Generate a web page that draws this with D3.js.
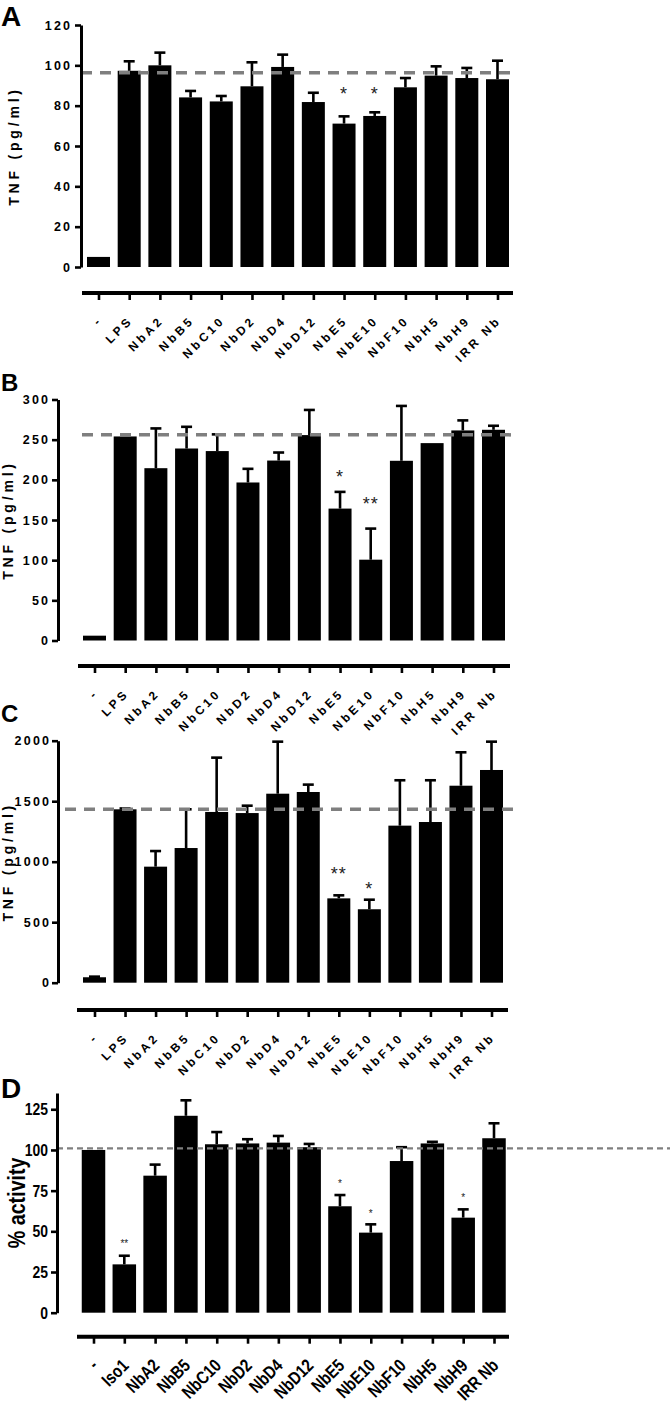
<!DOCTYPE html>
<html><head><meta charset="utf-8">
<script src="https://cdn.jsdelivr.net/npm/d3@7"></script>
<style>body{margin:0;background:#fff}svg{display:block}</style>
</head><body>
<script>
// ---------- DATA ----------
const catsTNF = ["-","LPS","NbA2","NbB5","NbC10","NbD2","NbD4","NbD12","NbE5","NbE10","NbF10","NbH5","NbH9","IRR Nb"];
const catsD   = ["-","Iso1","NbA2","NbB5","NbC10","NbD2","NbD4","NbD12","NbE5","NbE10","NbF10","NbH5","NbH9","IRR Nb"];

const meanA = [5, 97.3, 100, 84.1, 82.1, 89.6, 99.2, 81.8, 71.1, 74.9, 89.1, 94.9, 93.7, 93.1];
const semA  = [0, 4.7, 6.3, 3.2, 2.7, 11.9, 6.1, 4.6, 3.6, 1.8, 4.6, 4.6, 5.0, 9.2];
const sigA  = ["","","","","","","","","*","*","","","",""];
const sigPosA = [null,null,null,null,null,null,null,null,86.4,86.4,null,null,null,null];
const refA = 96.3;
const ticksA = [0,20,40,60,80,100,120];

const meanB = [6, 254, 214.5, 239, 235.8, 196.7, 224, 255.7, 164.2, 100.6, 223.7, 245.7, 261.5, 262.3];
const semB  = [0, 0, 49.5, 27, 20.8, 17, 10, 31.3, 20.8, 38.7, 68.3, 0, 12.5, 5];
const sigB  = ["","","","","","","","","*","**","","","",""];
const sigPosB = [null,null,null,null,null,null,null,null,204.6,171,null,null,null,null];
const refB = 256;
const ticksB = [0,50,100,150,200,250,300];

const meanC = [45, 1433, 959, 1113, 1411, 1402, 1562, 1576, 697, 607, 1298, 1328, 1628, 1758];
const semC  = [5, 7, 129, 320, 449, 61, 430, 61, 25, 79, 375, 345, 276, 234];
const sigC  = ["","","","","","","","","**","*","","","",""];
const sigPosC = [null,null,null,null,null,null,null,null,906,783,null,null,null,null];
const refC = 1433;
const ticksC = [0,500,1000,1500,2000];

const meanD = [100, 29.7, 84.2, 121, 103.5, 104, 104.5, 101.7, 65.4, 49.2, 93.2, 104, 58.4, 107.2];
const semD  = [0, 5.3, 6.8, 9.5, 7.5, 2.6, 4.1, 2, 6.9, 5.1, 8.5, 1, 5.1, 9.2];
const sigD  = ["","**","","","","","","","*","*","","","*",""];
const sigPosD = [null,42.8,null,null,null,null,null,null,79.9,61.5,null,null,70.9,null];
const refD = 101;
const ticksD = [0,25,50,75,100,125];

// ---------- DRAW ----------
const W = 670, H = 1406;
const svg = d3.select("body").append("svg").attr("width", W).attr("height", H);
const FONT = "'Liberation Sans', Arial, sans-serif";

// narrow the glyphs of a text selection (mimics a condensed bold face)
function condense(sel, f) {
  if (f === 1) return;
  sel.each(function () {
    const l = this.getComputedTextLength();
    d3.select(this).attr("textLength", l * f).attr("lengthAdjust", "spacingAndGlyphs");
  });
}

function panel(cfg) {
  const g = svg.append("g");
  const x = d3.scalePoint().domain(cfg.cats).range(cfg.xr);
  const y = d3.scaleLinear().domain(cfg.ydom).range(cfg.yr);
  const bw = cfg.bw;

  const data = cfg.cats.map((c, i) => ({c, m: cfg.mean[i], s: cfg.sem[i], sig: cfg.sig[i], sp: cfg.sigPos[i]}));

  const eb = g.selectAll("g.err").data(data.filter(d => d.s > 0)).join("g");
  eb.append("line").attr("x1", d => x(d.c)).attr("x2", d => x(d.c))
    .attr("y1", d => y(d.m)).attr("y2", d => y(d.m + d.s))
    .attr("stroke", "#000").attr("stroke-width", 2.6);
  eb.append("line").attr("x1", d => x(d.c) - cfg.cap/2).attr("x2", d => x(d.c) + cfg.cap/2)
    .attr("y1", d => y(d.m + d.s)).attr("y2", d => y(d.m + d.s))
    .attr("stroke", "#000").attr("stroke-width", 2.6);

  g.selectAll("rect.bar").data(data).join("rect")
    .attr("x", d => x(d.c) - bw/2).attr("width", bw)
    .attr("y", d => y(d.m)).attr("height", d => y(0) - y(d.m))
    .attr("fill", "#000");

  g.selectAll("text.sig").data(data.filter(d => d.sig)).join("text")
    .attr("x", d => x(d.c)).attr("y", d => y(d.sp) + cfg.sigDy)
    .attr("text-anchor", "middle")
    .attr("font-family", FONT).attr("font-size", cfg.sigSize)
    .attr("letter-spacing", cfg.sigLs).attr("fill", "#222")
    .text(d => d.sig);

  // reference dashed line (drawn over the bars)
  g.append("line")
    .attr("x1", cfg.refX[0]).attr("x2", cfg.refX[1])
    .attr("y1", y(cfg.ref)).attr("y2", y(cfg.ref))
    .attr("stroke", "#7f7f7f").attr("stroke-width", cfg.refW)
    .attr("stroke-dasharray", cfg.refDash);

  const ya = g.append("g").attr("transform", `translate(${cfg.axisX},0)`)
    .call(d3.axisLeft(y).tickValues(cfg.ticks).tickFormat(d3.format("d"))
      .tickSize(cfg.tickLen).tickSizeOuter(0).tickPadding(cfg.tickPad));
  ya.select(".domain").attr("stroke-width", 3).attr("stroke", "#000");
  ya.selectAll(".tick line").attr("stroke-width", 2.6).attr("stroke", "#000");
  const yt = ya.selectAll(".tick text").attr("font-family", FONT).attr("font-weight", "bold")
    .attr("font-size", cfg.yFs).attr("letter-spacing", cfg.yLs).attr("fill", "#000")
    .attr("dx", cfg.yDx);
  condense(yt, cfg.narrow);

  const tt = g.append("text")
    .attr("transform", `translate(${cfg.titleX},${(cfg.yr[0] + cfg.yr[1]) / 2}) rotate(-90)`)
    .attr("text-anchor", "middle").attr("font-family", FONT).attr("font-weight", "bold")
    .attr("font-size", cfg.titleFs).attr("letter-spacing", cfg.titleLs)
    .text(cfg.title);
  condense(tt, cfg.narrow);

  const xa = g.append("g").attr("transform", `translate(0,${cfg.xAxisY})`)
    .call(d3.axisBottom(x).tickSize(cfg.xTickLen).tickSizeOuter(0));
  xa.select(".domain").remove();
  xa.selectAll(".tick line").attr("stroke-width", 2.6).attr("stroke", "#000");
  xa.selectAll(".tick text").remove();
  xa.append("line").attr("x1", cfg.xLine[0]).attr("x2", cfg.xLine[1])
    .attr("y1", 0).attr("y2", 0).attr("stroke", "#000").attr("stroke-width", 4);
  const xt = xa.selectAll(".tick").append("text")
    .attr("transform", `translate(${cfg.lblDx},${cfg.lblDy}) rotate(-45)`)
    .attr("text-anchor", "end").attr("font-family", FONT).attr("font-weight", "bold")
    .attr("font-size", cfg.xFs).attr("letter-spacing", cfg.xLs).attr("fill", "#000")
    .text(d => d);
  condense(xt, cfg.narrow);

  svg.append("text").attr("x", cfg.letterX).attr("y", cfg.letterY)
    .attr("font-family", FONT).attr("font-weight", "bold").attr("font-size", cfg.letterFs)
    .text(cfg.letter);
}

const common = {
  bw: 23, cap: 11, refW: 3.5, refDash: "11,8", sigSize: 18, sigLs: 1, sigDy: 7, narrow: 1,
  tickLen: 6, yFs: 12.5, yLs: 2.2, yDx: 2.2, titleFs: 14, titleLs: 3.8,
  title: "TNF (pg/ml)", xTickLen: 7, xFs: 12, xLs: 3.2, lblDx: 4, lblDy: 28, letterFs: 28
};

panel({...common, letter: "A", letterX: 1, letterY: 26,
  cats: catsTNF, mean: meanA, sem: semA, sig: sigA, sigPos: sigPosA, ref: refA, ticks: ticksA,
  ydom: [0,120], yr: [267, 25], xr: [98.5, 497.5], axisX: 81, tickPad: 5, titleX: 19,
  refX: [81, 515], xAxisY: 293, xLine: [82, 513]});

panel({...common, letter: "B", letterX: 1, letterY: 391, letterFs: 24,
  cats: catsTNF, mean: meanB, sem: semB, sig: sigB, sigPos: sigPosB, ref: refB, ticks: ticksB,
  ydom: [0,300], yr: [640.5, 399.5], xr: [94.5, 493.5], axisX: 58, tickPad: 4, titleX: 13,
  refX: [82, 513], xAxisY: 666, xLine: [78, 510]});

panel({...common, letter: "C", letterX: 1, letterY: 722, letterFs: 24,
  cats: catsTNF, mean: meanC, sem: semC, sig: sigC, sigPos: sigPosC, ref: refC, ticks: ticksC,
  ydom: [0,2000], yr: [982.7, 740.7], xr: [94.5, 491.5], axisX: 58, tickPad: 3, titleX: 13,
  refX: [65, 513], xAxisY: 1010, xLine: [77, 508]});

panel({...common, letter: "D", letterX: 1, letterY: 1098, letterFs: 28,
  cats: catsD, mean: meanD, sem: semD, sig: sigD, sigPos: sigPosD, ref: refD, ticks: ticksD,
  ydom: [0,135], yr: [1312.7, 1093], xr: [93.5, 494], axisX: 57, tickPad: 3, titleX: 25,
  refX: [57, 670], refW: 2.2, refDash: "6,4", xAxisY: 1336.7, xLine: [77, 509],
  sigSize: 10, sigLs: 0, sigDy: 4, bw: 23.5, narrow: 0.82,
  yFs: 17, yLs: 0, yDx: 0, titleFs: 24, titleLs: 0, title: "% activity",
  xFs: 18, xLs: 0, lblDx: 5, lblDy: 30});
</script>
</body></html>
